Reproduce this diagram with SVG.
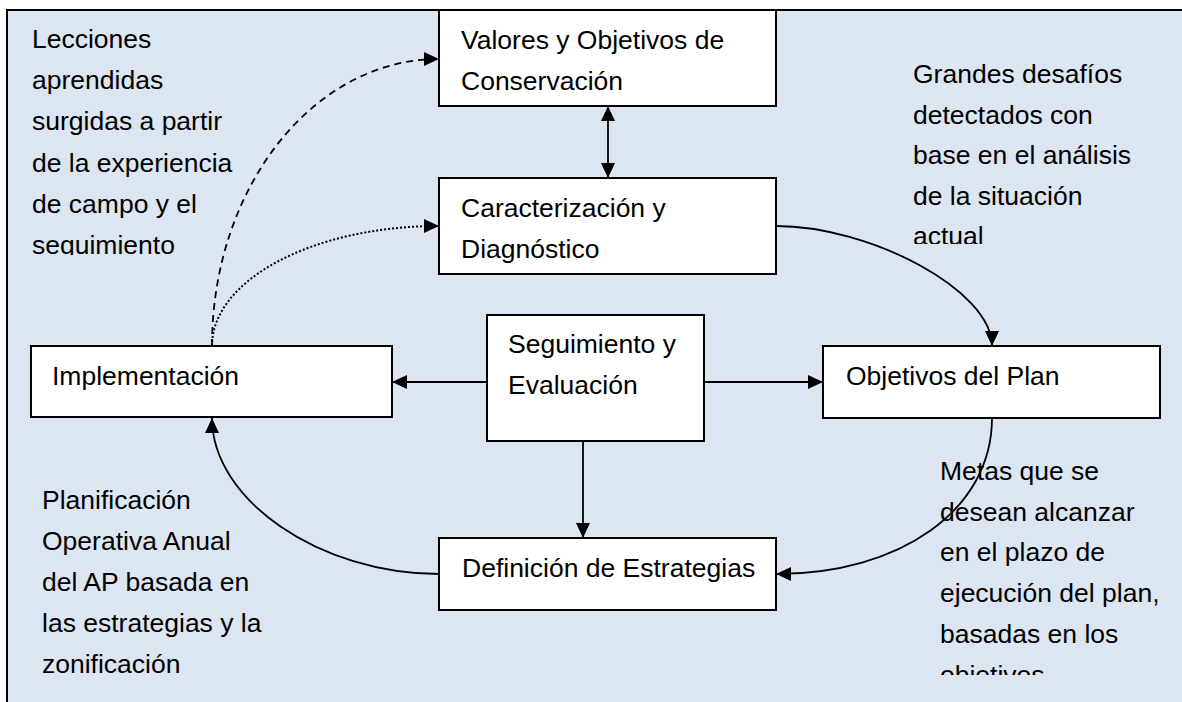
<svg xmlns="http://www.w3.org/2000/svg" width="1182" height="702" viewBox="0 0 1182 702">
  <style>
    .box { fill: #ffffff; stroke: #000000; stroke-width: 2; }
    .t { font-family: "Liberation Sans", Arial, sans-serif; font-size: 26.5px; fill: #000000; }
    .c { fill: none; stroke: #000000; stroke-width: 1.8; }
    .dash { stroke-dasharray: 7 5; }
    .dot { stroke-dasharray: 2 2; stroke-width: 2; }
  </style>
  <defs>
    <marker id="ah" viewBox="0 0 15 14" refX="15" refY="7" markerWidth="15" markerHeight="14" markerUnits="userSpaceOnUse" orient="auto-start-reverse">
      <path d="M0,0 L15,7 L0,14 z" fill="#000000"/>
    </marker>
    <clipPath id="clipL"><rect x="15" y="15" width="250" height="240"/></clipPath>
    <clipPath id="clipG"><rect x="900" y="50" width="270" height="194"/></clipPath>
    <clipPath id="clipP"><rect x="30" y="480" width="280" height="194"/></clipPath>
    <clipPath id="clipM"><rect x="930" y="450" width="250" height="225"/></clipPath>
  </defs>

  <g id="background">
    <rect x="0" y="0" width="1182" height="702" fill="#ffffff"/>
    <rect x="7" y="10" width="1175" height="692" fill="#dce6f2"/>
    <line x1="7" y1="10" x2="1182" y2="10" stroke="#000000" stroke-width="2"/>
    <line x1="7" y1="9" x2="7" y2="702" stroke="#000000" stroke-width="2"/>
  </g>

  <g id="node-valores">
    <rect class="box" x="439" y="10" width="337" height="96"/>
    <text class="t"><tspan x="461" y="49">Valores y Objetivos de</tspan><tspan x="461" y="90">Conservación</tspan></text>
  </g>
  <g id="node-caracterizacion">
    <rect class="box" x="439" y="178" width="337" height="96"/>
    <text class="t"><tspan x="461" y="217">Caracterización y</tspan><tspan x="461" y="258">Diagnóstico</tspan></text>
  </g>
  <g id="node-seguimiento">
    <rect class="box" x="487" y="315" width="217" height="126"/>
    <text class="t"><tspan x="508" y="353">Seguimiento y</tspan><tspan x="508" y="394">Evaluación</tspan></text>
  </g>
  <g id="node-implementacion">
    <rect class="box" x="31" y="346" width="361" height="71"/>
    <text class="t" x="52" y="385">Implementación</text>
  </g>
  <g id="node-objetivos">
    <rect class="box" x="823" y="346" width="337" height="72"/>
    <text class="t" x="846" y="385">Objetivos del Plan</text>
  </g>
  <g id="node-definicion">
    <rect class="box" x="439" y="538" width="337" height="72"/>
    <text class="t" x="462" y="577">Definición de Estrategias</text>
  </g>

  <g id="connectors">
    <line class="c" x1="608" y1="106" x2="608" y2="178" marker-start="url(#ah)" marker-end="url(#ah)"/>
    <line class="c" x1="487" y1="382" x2="392" y2="382" marker-end="url(#ah)"/>
    <line class="c" x1="704" y1="382" x2="823" y2="382" marker-end="url(#ah)"/>
    <line class="c" x1="583" y1="441" x2="583" y2="538" marker-end="url(#ah)"/>
    <path class="c" d="M776,226 C870,226 992,290 992,346" marker-end="url(#ah)"/>
    <path class="c" d="M992,418 C992,510 900,574 776,574" marker-end="url(#ah)"/>
    <path class="c" d="M439,574 C320,574 212,500 212,418" marker-end="url(#ah)"/>
    <path class="c dash" d="M212,346 C212,188 313,59 439,59" marker-end="url(#ah)"/>
    <path class="c dot" d="M212,346 C212,280 313,226 439,226" marker-end="url(#ah)"/>
  </g>

  <g id="label-lecciones" clip-path="url(#clipL)">
    <text class="t"><tspan x="32" y="48">Lecciones</tspan><tspan x="32" y="89">aprendidas</tspan><tspan x="32" y="130">surgidas a partir</tspan><tspan x="32" y="172">de la experiencia</tspan><tspan x="32" y="213">de campo y el</tspan><tspan x="32" y="254">seguimiento</tspan></text>
  </g>
  <g id="label-grandes" clip-path="url(#clipG)">
    <text class="t"><tspan x="913" y="83">Grandes desafíos</tspan><tspan x="913" y="123.5">detectados con</tspan><tspan x="913" y="164">base en el análisis</tspan><tspan x="913" y="204.5">de la situación</tspan><tspan x="913" y="245">actual</tspan></text>
  </g>
  <g id="label-planificacion" clip-path="url(#clipP)">
    <text class="t"><tspan x="42" y="509">Planificación</tspan><tspan x="42" y="550">Operativa Anual</tspan><tspan x="42" y="591">del AP basada en</tspan><tspan x="42" y="632">las estrategias y la</tspan><tspan x="42" y="673">zonificación</tspan></text>
  </g>
  <g id="label-metas" clip-path="url(#clipM)">
    <text class="t"><tspan x="940" y="480">Metas que se</tspan><tspan x="940" y="521">desean alcanzar</tspan><tspan x="940" y="561">en el plazo de</tspan><tspan x="940" y="602">ejecución del plan,</tspan><tspan x="940" y="643">basadas en los</tspan><tspan x="940" y="684">objetivos</tspan></text>
  </g>
</svg>
